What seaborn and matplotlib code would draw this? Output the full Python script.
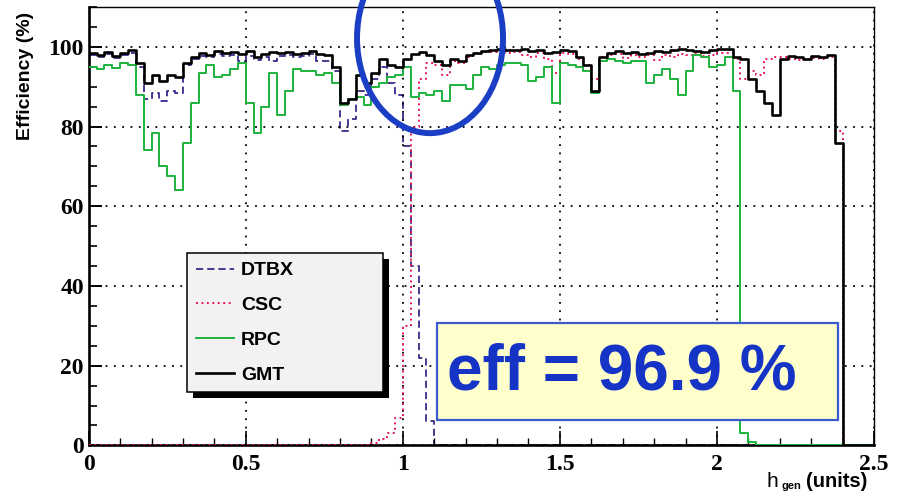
import numpy as np
import matplotlib
matplotlib.use("Agg")
import matplotlib.pyplot as plt
import seaborn as sns
from matplotlib.patches import Rectangle, Ellipse
from matplotlib.ticker import MultipleLocator, FuncFormatter

# ---------------- data (bin width 0.025 in eta, 0 .. 2.5) ----------------
bin_width = 0.025
n_bins = 100

gmt = [98.5, 98.0, 98.8, 97.8, 98.5, 99.3, 96.0, 91.0, 93.0, 91.5, 93.0, 92.5, 96.0, 97.5,
       98.5, 98.0, 99.0, 98.5, 98.8, 98.2, 99.0, 97.5, 98.3, 98.8,
       98.5, 98.8, 98.2, 98.5, 99.0, 98.3, 98.0,
       95.0, 86.0, 87.0, 93.0, 91.0, 93.5, 97.0, 95.5, 95.0, 97.0, 98.2, 98.8, 98.0,
       96.5, 95.5, 97.0, 96.5,
       98.0, 98.5, 99.0, 99.2, 99.5, 99.3, 99.2, 99.5, 99.0, 99.3,
       98.5, 98.8, 99.3, 99.0,
       97.5, 95.5, 89.0, 97.5,
       98.5, 99.0, 98.5, 98.8, 98.3, 98.5, 99.0, 98.7, 99.2, 99.5, 99.3, 99.0, 98.8, 99.2, 99.5, 99.5,
       97.5, 97.0, 92.0, 89.0, 86.0, 83.0, 97.0, 97.8,
       97.5, 97.0, 97.8, 97.5, 98.0,
       76.0,
       0, 0, 0, 0]

dtbx = [98.0, 97.5, 98.3, 97.2, 98.0, 98.5, 95.0, 87.0, 88.5, 86.5, 89.0, 88.5, 95.5, 97.0,
        97.8, 97.5, 98.2, 97.8, 98.0, 96.5, 97.8, 96.8, 97.5, 96.5, 97.8, 98.0, 97.5, 97.8, 98.2, 96.5, 96.5,
        94.0, 79.0, 82.0, 89.0, 88.0, 92.0, 95.0, 91.0, 88.0, 75.0, 45.0, 22.0, 6.0] + [0] * 56

csc = [0] * 36 + [0.5, 1.5, 3.0, 7.0, 30.0, 80.0, 92.0, 96.0,
       95.5, 93.0, 96.5, 96.0, 97.5, 98.5, 98.8, 98.8, 99.0, 98.5, 98.8, 98.0, 97.5, 98.5, 97.0, 93.5,
       98.5, 98.3, 97.0, 95.5, 92.0, 97.5,
       98.0, 98.3, 97.2, 98.0, 97.5, 98.0, 96.8, 98.0, 97.5, 98.3, 98.0, 98.5, 97.8, 98.0, 98.5, 98.5,
       97.0, 92.0, 94.0, 93.0, 97.0, 97.5, 97.5, 97.0, 96.8, 97.0, 97.2, 97.0, 97.5, 79.0,
       0, 0, 0, 0]

rpc = [95.0, 94.5, 95.5, 94.8, 96.0, 95.5, 88.0, 74.0, 78.5, 70.0, 67.5, 64.0, 76.0, 86.0,
       93.5, 95.5, 92.5, 93.0, 94.5, 96.0, 86.0, 78.5, 85.0, 93.5, 83.0, 89.0, 94.5, 94.0,
       94.0, 93.0, 93.5, 91.0, 85.5, 87.0, 87.5, 85.5, 90.0, 91.0, 92.5, 93.0, 95.0, 87.5,
       88.5, 88.0, 89.0, 86.5, 90.5, 90.5, 89.5, 93.0, 95.0, 94.5, 95.5, 96.0, 96.0, 95.5,
       91.5, 92.5, 95.0, 86.0, 96.0, 95.5, 95.0, 94.0, 88.5, 96.5, 97.0, 96.5, 96.0, 96.5,
       96.5, 91.0, 93.0, 94.5, 92.0, 88.0, 94.0, 98.0, 97.5, 95.0, 95.5, 97.5, 89.0, 3.0,
       0.8] + [0] * 15

series_names = ["DTBX", "CSC", "RPC", "GMT"]
x_ticks = [0, 0.5, 1, 1.5, 2, 2.5]
y_ticks = [0, 20, 40, 60, 80, 100]
eff_text = "eff = 96.9 %"

edges = [i * bin_width for i in range(n_bins + 1)]
centers = [(edges[i] + edges[i + 1]) / 2 for i in range(n_bins)]

# ---------------- figure ----------------
W, H = 902, 494
fig = plt.figure(figsize=(W / 100, H / 100), dpi=100)
ax = fig.add_axes([88.7 / W, 1 - 445.4 / H, (874 - 88.7) / W, 438.4 / H])

styles = {
    "DTBX": dict(color="#3b2a8e", linestyle=(0, (4, 2.2)), linewidth=1.3, zorder=2),
    "CSC": dict(color="#e8194f", linestyle=(0, (1, 1.8)), linewidth=1.4, zorder=2.6),
    "RPC": dict(color="#1db33c", linestyle="-", linewidth=1.4, zorder=2.7),
    "GMT": dict(color="#000000", linestyle="-", linewidth=1.9, zorder=2.8),
}
values = {"DTBX": dtbx, "CSC": csc, "RPC": rpc, "GMT": gmt}

for name in series_names:
    sns.histplot(x=np.array(centers), weights=np.array(values[name], dtype=float),
                 bins=edges, element="step", fill=False, ax=ax, label=name,
                 **styles[name])

ax.set_xlim(0, 2.5)
ax.set_ylim(0, 110)
ax.set_xlabel("")
ax.set_ylabel("")

ax.xaxis.set_major_locator(MultipleLocator(0.5))
ax.xaxis.set_minor_locator(MultipleLocator(0.1))
ax.yaxis.set_major_locator(MultipleLocator(20))
ax.yaxis.set_minor_locator(MultipleLocator(5))
ax.set_xticks(x_ticks)
ax.set_yticks(y_ticks)
fmt = FuncFormatter(lambda v, p: f"{v:g}")
ax.xaxis.set_major_formatter(fmt)
ax.yaxis.set_major_formatter(fmt)

ax.tick_params(axis="both", which="both", direction="in", top=False, right=False,
               color="black")
ax.tick_params(axis="x", which="major", length=10, width=1.2, pad=6)
ax.tick_params(axis="x", which="minor", length=5, width=1.0)
ax.tick_params(axis="y", which="major", length=9, width=1.4, pad=3.5)
ax.tick_params(axis="y", which="minor", length=6, width=1.2)
for lab in ax.get_xticklabels() + ax.get_yticklabels():
    lab.set_fontfamily("Liberation Serif")
    lab.set_fontweight("bold")
    lab.set_fontsize(17)

ax.grid(True, which="major", color="black", linestyle=(0, (1, 3.6)), linewidth=1.3)
ax.set_axisbelow(False)

for side in ["left", "bottom"]:
    ax.spines[side].set_linewidth(1.9)
for side in ["top", "right"]:
    ax.spines[side].set_linewidth(1.0)

# legend
leg = ax.legend(loc="upper left", bbox_to_anchor=(0.1252, 0.1264, 0.2496, 0.3125),
                mode="expand", borderaxespad=0, fancybox=False, framealpha=1,
                facecolor="#f3f1f1", edgecolor="black", handlelength=1.95,
                handletextpad=0.38, labelspacing=0.88, borderpad=0.45,
                prop={"family": "Liberation Sans", "weight": "bold", "size": 14})
leg.get_frame().set_linewidth(1.1)
leg.set_zorder(5)

fig.canvas.draw()
bb = leg.get_window_extent(fig.canvas.get_renderer())
inv = ax.transAxes.inverted()
(x0, y0), (x1, y1) = inv.transform([[bb.x0 + 6, bb.y0 - 6], [bb.x1 + 6, bb.y1 - 6]])
ax.add_patch(Rectangle((x0, y0), x1 - x0, y1 - y0, transform=ax.transAxes,
                       facecolor="black", edgecolor="none", zorder=4.9, clip_on=False))

# efficiency box
ax.add_patch(Rectangle((0.4435, 0.058), 0.9541 - 0.4435, 0.2792 - 0.058,
                       transform=ax.transAxes, facecolor="#ffffcc",
                       edgecolor="#3a5bd0", linewidth=1.6, zorder=6))
ax.text(0.4563, 0.1674, eff_text, transform=ax.transAxes, ha="left", va="center",
        fontsize=46, fontweight="bold", family="Liberation Sans", color="#1534c6",
        zorder=7)

# highlight ellipse
ax.add_patch(Ellipse((1.0866, 102.2), 0.4648, 47.7, fill=False, edgecolor="#1b3fc4",
                     linewidth=4.3, zorder=8, clip_on=False))

# axis titles
fig.text(26 / W, 1 - 12 / H, "Efficiency (%)", rotation=90, ha="center", va="top",
         fontsize=14, fontweight="bold", family="Liberation Sans")
fig.text(867 / W, 1 - 486.5 / H, "(units)", ha="right", va="baseline",
         fontsize=14.5, fontweight="bold", family="Liberation Sans")
fig.text(781 / W, 1 - 488.5 / H, "gen", ha="left", va="baseline",
         fontsize=8, fontweight="bold", family="Liberation Sans")
fig.text(767 / W, 1 - 487 / H, "h", ha="left", va="baseline",
         fontsize=15, family="Liberation Sans")

fig.savefig("out.png", dpi=100)
